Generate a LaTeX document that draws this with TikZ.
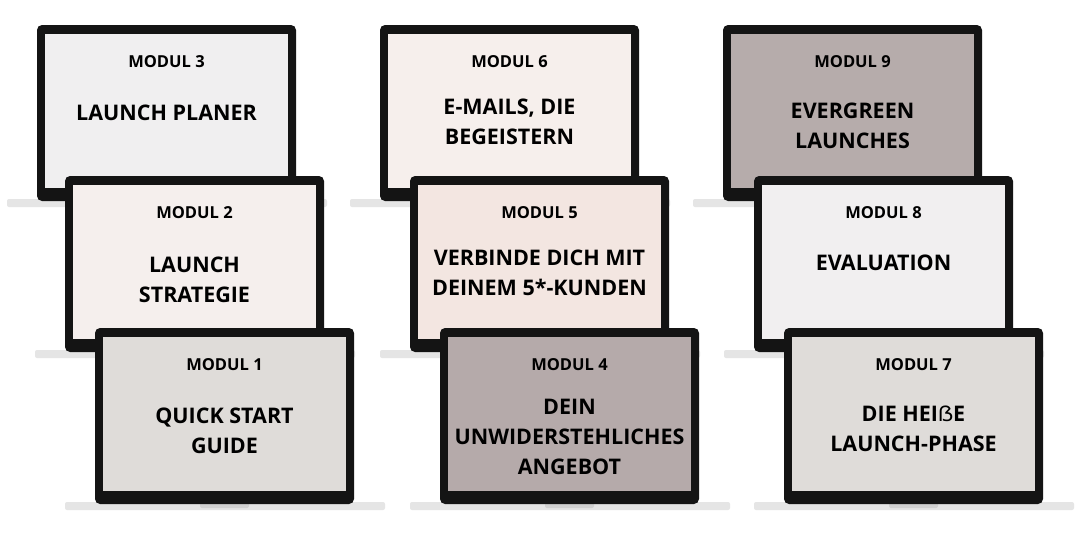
\documentclass[tikz,border=0pt]{standalone}
\usepackage{fontspec}
\setmainfont{Open Sans}
\newfontfamily\altfont{Noto Sans}
\begin{document}
\begin{tikzpicture}[x=1pt,y=-1pt]
\useasboundingbox[fill=white] (0,0) rectangle (1080,550);
\tikzset{
  laptopbody/.style={fill=black!92,rounded corners=5pt},
  basebar/.style={fill=black!10,rounded corners=2pt},
  modlabel/.style={font=\bfseries\fontsize{16.5}{18}\selectfont,anchor=center},
  titlelabel/.style={font=\bfseries\fontsize{21.5}{30}\selectfont,align=center,anchor=center}
}
\newcommand{\laptop}[7]{% x,y,color,name,modul,titleoffset,title
  \fill[basebar] (#1-30,#2+174) rectangle (#1+290,#2+182);
  \fill[black!18,rounded corners=2pt] (#1+105,#2+174) rectangle (#1+154,#2+180);
  \fill[laptopbody] (#1,#2) rectangle (#1+259,#2+176);
  \fill[#3] (#1+8,#2+9) rectangle (#1+251,#2+163);
  \node[modlabel] (#4m) at (#1+129.5,#2+37) {#5};
  \node[titlelabel] (#4t) at (#1+129.5,#2+#6) {#7};
}
\definecolor{c3}{HTML}{F0EFF0}
\definecolor{c2}{HTML}{F5EFED}
\definecolor{c1}{HTML}{DFDCD9}
\definecolor{c6}{HTML}{F6EFEC}
\definecolor{c5}{HTML}{F3E6E1}
\definecolor{c4}{HTML}{B5AAAA}
\definecolor{c9}{HTML}{B6ACAB}
\definecolor{c8}{HTML}{F1EFF0}
\definecolor{c7}{HTML}{DFDCD9}
\laptop{37}{25}{c3}{m3}{MODUL 3}{88}{LAUNCH PLANER}
\laptop{380}{25}{c6}{m6}{MODUL 6}{97}{E-MAILS, DIE\\BEGEISTERN}
\laptop{723}{25}{c9}{m9}{MODUL 9}{101}{EVERGREEN\\LAUNCHES}
\laptop{65}{176}{c2}{m2}{MODUL 2}{104}{LAUNCH\\STRATEGIE}
\laptop{410}{176}{c5}{m5}{MODUL 5}{97}{VERBINDE DICH MIT\\DEINEM 5*-KUNDEN}
\laptop{754}{176}{c8}{m8}{MODUL 8}{87}{EVALUATION}
\laptop{95}{328}{c1}{m1}{MODUL 1}{103}{QUICK START\\GUIDE}
\laptop{440}{328}{c4}{m4}{MODUL 4}{109}{DEIN\\UNWIDERSTEHLICHES\\ANGEBOT}
\laptop{784}{328}{c7}{m7}{MODUL 7}{101}{DIE HEI{\altfont\bfseries ẞ}E\\LAUNCH-PHASE}
\end{tikzpicture}
\end{document}
